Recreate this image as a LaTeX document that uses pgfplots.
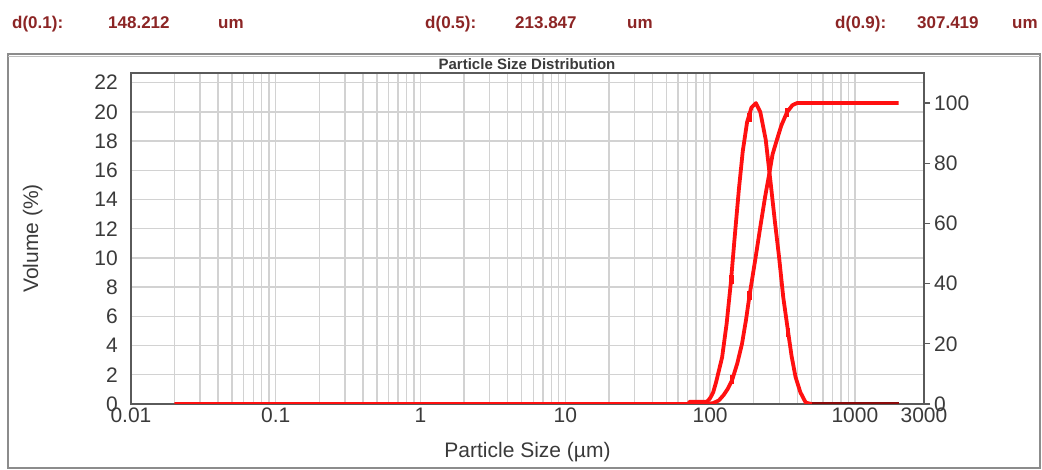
\documentclass[border=0pt]{standalone}
\usepackage{pgfplots}
\pgfplotsset{compat=1.18}
\usepackage{fontspec}
\setmainfont{Liberation Sans}
\definecolor{curve}{HTML}{FF1010}
\definecolor{tail}{HTML}{8B0A0A}
\definecolor{dtext}{HTML}{8C2525}
\definecolor{gridc}{HTML}{D2D2D2}
\definecolor{framec}{HTML}{5A5A5A}
\definecolor{labc}{HTML}{3A3A3A}

\begin{document}
\begin{tikzpicture}[x=1pt,y=1pt]
\useasboundingbox (0,0) rectangle (1042,470);
% panel frame
\draw[color=black!45, line width=1.5pt] (8,2) rectangle (1040,416);
\draw[color=black!25, line width=1pt] (8,413) -- (1040,413);

% summary line
\begin{scope}[every node/.style={anchor=base west, inner sep=0pt, text=dtext,
    font=\fontsize{17}{17}\selectfont\bfseries}]
  \node at (12,441) {d(0.1):};  \node at (108,441) {148.212}; \node at (218,441) {um};
  \node at (425,441) {d(0.5):}; \node at (515,441) {213.847}; \node at (627,441) {um};
  \node at (835,441) {d(0.9):}; \node at (917,441) {307.419}; \node at (1012,441) {um};
\end{scope}
\node[font=\fontsize{15}{15}\selectfont\bfseries, text=labc] at (527,406) {Particle Size Distribution};

% left axis: volume density
\begin{axis}[
  at={(131pt,66pt)}, anchor=south west,
  scale only axis, width=793pt, height=331pt,
  xmode=log, xmin=0.01, xmax=3000,
  /pgf/number format/assume math mode=true,
  tick label style={font=\fontsize{21}{21}\selectfont, text=labc},
  ymin=0, ymax=22.66,
  ytick={0,2,...,22},
  xtick={0.01,0.1,1,10,100,1000},
  xticklabels={0.01,0.1,1,10,100,1000},
  extra x ticks={3000}, extra x tick labels={3000},
  extra x tick style={grid=none},
  grid=both,
  major grid style={gridc, line width=1.4pt},
  minor grid style={gridc, line width=1.4pt},
  minor y tick num=0,
  major tick length=0pt, minor tick length=0pt,
  axis line style={framec, line width=1.6pt},
  yticklabel style={inner sep=0pt, xshift=-13pt},
  xticklabel style={inner sep=0pt, yshift=-4pt},
  xlabel={Particle Size (µm)}, ylabel={Volume (\%)},
  label style={font=\fontsize{21}{21}\selectfont, text=labc},
  xlabel style={at={(axis description cs:0.5,-0.145)}, anchor=center},
  ylabel style={at={(axis description cs:-0.124,0.5)}, anchor=center},
]
\addplot[curve, line width=3.8pt, line join=round] coordinates {
  (0.02,0) (71,0) (72,0.15) (95,0.15) (100,0.4) (105,0.8) (110,1.5) (121,3.2)
  (130,5.5) (139,8.3) (148,11.5) (158,14.7) (168,17.3) (180,19.3) (193,20.3)
  (207,20.6) (222,20.0) (242,18.1) (262,15.1) (280,12.5) (299,10.1) (320,7.3)
  (346,4.9) (365,3.3) (389,1.85) (420,0.8) (457,0.1) (490,0.02) (505,0)
};
\addplot[tail, line width=3.8pt] coordinates {(505,0) (2000,0)};
\addplot[curve, only marks, mark=|, mark size=4.5pt, line width=4.5pt] coordinates {
  (140,8.5) (187,19.6) (346,4.9)
};
\end{axis}

% right axis: cumulative volume
\begin{axis}[
  at={(131pt,66pt)}, anchor=south west,
  scale only axis, width=793pt, height=331pt,
  xmode=log, xmin=0.01, xmax=3000,
  /pgf/number format/assume math mode=true,
  tick label style={font=\fontsize{21}{21}\selectfont, text=labc},
  ymin=0, ymax=110,
  axis y line*=right, axis x line=none,
  ytick={0,20,...,100},
  tick align=outside, major tick length=6pt,
  tick style={framec, line width=1.2pt},
  axis line style={framec, line width=1.6pt},
  yticklabel style={inner sep=0pt, xshift=4pt},
]
\addplot[curve, line width=3.8pt, line join=round] coordinates {
  (0.02,0) (95,0) (105,0.3) (115,1.2) (124,3.0) (133,5.2) (142,8) (154,13.5)
  (166,20) (177,28) (187,36) (205,48) (224,60) (240,69) (255,76) (270,83)
  (290,88) (310,92.5) (340,97) (370,99.3) (398,100) (2000,100)
};
\addplot[curve, only marks, mark=|, mark size=4.5pt, line width=4.5pt] coordinates {
  (142,8) (187,36) (340,97)
};
\end{axis}
\end{tikzpicture}
\end{document}
